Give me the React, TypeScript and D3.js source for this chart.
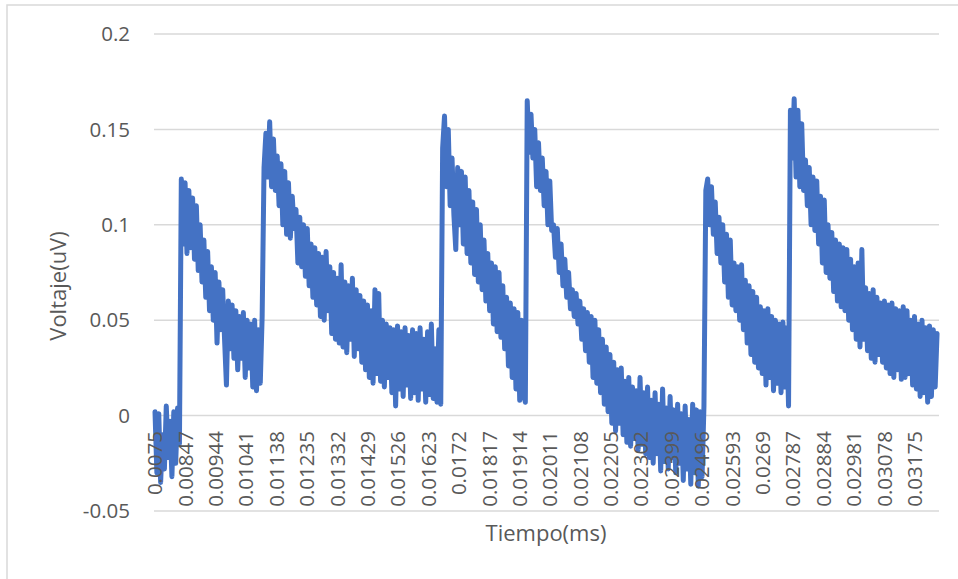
import React from "react";
import * as d3 from "d3";

// Time-axis tick labels (ms); one label every 97 samples
const timeLabels = [
  "0.0075", "0.00847", "0.00944", "0.01041", "0.01138", "0.01235", "0.01332",
  "0.01429", "0.01526", "0.01623", "0.0172", "0.01817", "0.01914", "0.02011",
  "0.02108", "0.02205", "0.02302", "0.02399", "0.02496", "0.02593", "0.0269",
  "0.02787", "0.02884", "0.02981", "0.03078", "0.03175",
];
const LABEL_EVERY = 97; // samples between labels
const SAMPLE_COUNT = 2500; // samples in the record
const SAMPLE_STEP = 6; // one stored reading every 6 samples

// Voltage readings (uV), split by pulse
const baseline = [
  0.002, -0.03, 0.001, -0.035, -0.01, -0.028, 0.005, -0.022, -0.003, -0.032,
  0.002, -0.025, 0.004, -0.015,
];
const pulse1 = [
  0.124, 0.09, 0.122, 0.085, 0.118, 0.088, 0.114, 0.082, 0.11, 0.076,
  0.1, 0.07, 0.092, 0.062, 0.086, 0.055, 0.078, 0.05, 0.075, 0.038,
  0.07, 0.045, 0.066, 0.04, 0.016, 0.06, 0.035, 0.058, 0.03, 0.055,
  0.024, 0.052, 0.03, 0.054, 0.02, 0.05, 0.025, 0.048, 0.015, 0.05,
  0.013, 0.045, 0.017, 0.052,
];
const pulse2 = [
  0.13, 0.148, 0.125, 0.154, 0.12, 0.145, 0.118, 0.136, 0.11, 0.132,
  0.1, 0.128, 0.095, 0.122, 0.093, 0.115, 0.098, 0.108, 0.08, 0.104,
  0.078, 0.1, 0.073, 0.098, 0.068, 0.09, 0.062, 0.088, 0.058, 0.085,
  0.052, 0.083, 0.05, 0.086, 0.055, 0.078, 0.043, 0.075, 0.04, 0.072,
  0.038, 0.079, 0.036, 0.07, 0.033, 0.068, 0.04, 0.072, 0.031, 0.066,
  0.035, 0.063, 0.028, 0.06, 0.024, 0.058, 0.02, 0.055, 0.017, 0.066,
  0.022, 0.064, 0.018, 0.05, 0.015, 0.048, 0.02, 0.046, 0.012, 0.045,
  0.005, 0.047, 0.014, 0.044, 0.01, 0.046, 0.016, 0.042, 0.009, 0.045,
  0.012, 0.043, 0.008, 0.046, 0.014, 0.04, 0.007, 0.044, 0.011, 0.048,
  0.009, 0.035, 0.007, 0.045, 0.006,
];
const pulse3 = [
  0.14, 0.157, 0.12, 0.15, 0.11, 0.135, 0.105, 0.087, 0.13, 0.1,
  0.128, 0.09, 0.125, 0.085, 0.118, 0.08, 0.112, 0.074, 0.108, 0.07,
  0.1, 0.066, 0.092, 0.06, 0.085, 0.055, 0.08, 0.048, 0.078, 0.044,
  0.075, 0.041, 0.068, 0.035, 0.062, 0.026, 0.059, 0.02, 0.056, 0.014,
  0.054, 0.008, 0.05, 0.012, 0.007,
];
const pulse4 = [
  0.165, 0.138, 0.158, 0.135, 0.15, 0.12, 0.143, 0.118, 0.135, 0.11,
  0.128, 0.1, 0.123, 0.097, 0.1, 0.083, 0.098, 0.075, 0.09, 0.068,
  0.082, 0.062, 0.075, 0.056, 0.066, 0.052, 0.064, 0.048, 0.06, 0.04,
  0.056, 0.034, 0.054, 0.028, 0.052, 0.02, 0.05, 0.017, 0.045, 0.012,
  0.04, 0.006, 0.036, 0.002, 0.032, -0.004, 0.028, -0.008, 0.024, -0.004,
  0.025, -0.01, 0.018, -0.014, 0.02, -0.016, 0.015, -0.012, 0.013, -0.018,
  0.02, -0.015, 0.012, -0.02, 0.015, -0.022, 0.008, -0.025, 0.012, -0.02,
  0.006, -0.029, 0.014, -0.024, 0.004, -0.028, 0.01, -0.022, 0.003, -0.03,
  0.006, -0.025, 0.001, -0.034, 0.005, -0.028, -0.002, -0.036, 0.006, -0.03,
  0.003, -0.037, 0.002, -0.032, 0.005,
];
const pulse5 = [
  0.118, 0.124, 0.1, 0.12, 0.095, 0.112, 0.085, 0.104, 0.08, 0.1,
  0.07, 0.095, 0.062, 0.092, 0.058, 0.08, 0.055, 0.078, 0.05, 0.079,
  0.045, 0.071, 0.038, 0.068, 0.032, 0.065, 0.028, 0.062, 0.025, 0.057,
  0.022, 0.055, 0.016, 0.056, 0.02, 0.052, 0.013, 0.05, 0.017, 0.048,
  0.012, 0.049, 0.015, 0.046, 0.005,
];
const pulse6 = [
  0.16, 0.135, 0.166, 0.125, 0.16, 0.12, 0.153, 0.118, 0.134, 0.11,
  0.13, 0.1, 0.125, 0.097, 0.123, 0.09, 0.115, 0.08, 0.113, 0.075,
  0.1, 0.072, 0.096, 0.065, 0.092, 0.06, 0.09, 0.057, 0.088, 0.055,
  0.087, 0.05, 0.082, 0.045, 0.078, 0.04, 0.08, 0.036, 0.087, 0.04,
  0.067, 0.034, 0.064, 0.03, 0.066, 0.028, 0.062, 0.032, 0.059, 0.028,
  0.06, 0.025, 0.058, 0.022, 0.059, 0.02, 0.056, 0.024, 0.055, 0.019,
  0.057, 0.02, 0.055, 0.022, 0.05, 0.016, 0.052, 0.014, 0.048, 0.01,
  0.05, 0.012, 0.046, 0.007, 0.047, 0.01, 0.045, 0.015, 0.043,
];

const voltages = [
  ...baseline, ...pulse1, ...pulse2, ...pulse3, ...pulse4, ...pulse5, ...pulse6,
];

const yTicks = [-0.05, 0, 0.05, 0.1, 0.15, 0.2];

const WIDTH = 958;
const HEIGHT = 579;
const plot = { left: 155, right: 938, top: 34, bottom: 511 };
const TEXT = "#595959";
const GRID = "#d9d9d9";
const FONT = "'Open Sans', 'Noto Sans', sans-serif";

export default function App() {
  const x = d3
    .scaleLinear()
    .domain([0, SAMPLE_COUNT - 1])
    .range([plot.left, plot.right]);
  const y = d3.scaleLinear().domain([-0.05, 0.2]).range([plot.bottom, plot.top]);

  const line = d3
    .line<number>()
    .x((_, i) => x(i * SAMPLE_STEP))
    .y((v) => y(v));

  const labelTop = y(0) + 15.5;

  return (
    <svg
      width={WIDTH}
      height={HEIGHT}
      style={{ position: "absolute", left: 0, top: 0, background: "#fff" }}
      fontFamily={FONT}
    >
      <rect x={0} y={0} width={WIDTH} height={HEIGHT} fill="#fff" />
      {/* chart frame */}
      <rect
        x={7}
        y={5}
        width={WIDTH + 20}
        height={HEIGHT + 20}
        fill="none"
        stroke={GRID}
        strokeWidth={1.5}
      />
      {/* horizontal gridlines and value labels */}
      {yTicks.map((t) => (
        <g key={t}>
          <line
            x1={plot.left - 1}
            x2={plot.right + 1}
            y1={y(t)}
            y2={y(t)}
            stroke={GRID}
            strokeWidth={1.5}
          />
          <text
            x={130}
            y={y(t)}
            dy="0.35em"
            textAnchor="end"
            fontSize={20.5}
            fill={TEXT}
          >
            {t}
          </text>
        </g>
      ))}
      {/* signal trace */}
      <path
        d={line(voltages) ?? ""}
        fill="none"
        stroke="#4472C4"
        strokeWidth={5}
        strokeLinejoin="round"
        strokeLinecap="round"
      />
      {/* time labels, rotated */}
      {timeLabels.map((lab, k) => {
        const lx = x(k * LABEL_EVERY);
        return (
          <text
            key={lab}
            transform={`translate(${lx},${labelTop}) rotate(-90)`}
            textAnchor="end"
            dy="0.35em"
            fontSize={20.5}
            fill={TEXT}
          >
            {lab}
          </text>
        );
      })}
      {/* axis titles */}
      <text
        x={546}
        y={533}
        dy="0.35em"
        textAnchor="middle"
        fontSize={22}
        fill={TEXT}
      >
        Tiempo(ms)
      </text>
      <text
        transform={`translate(58,286) rotate(-90)`}
        dy="0.35em"
        textAnchor="middle"
        fontSize={22}
        fill={TEXT}
      >
        Voltaje(uV)
      </text>
    </svg>
  );
}
